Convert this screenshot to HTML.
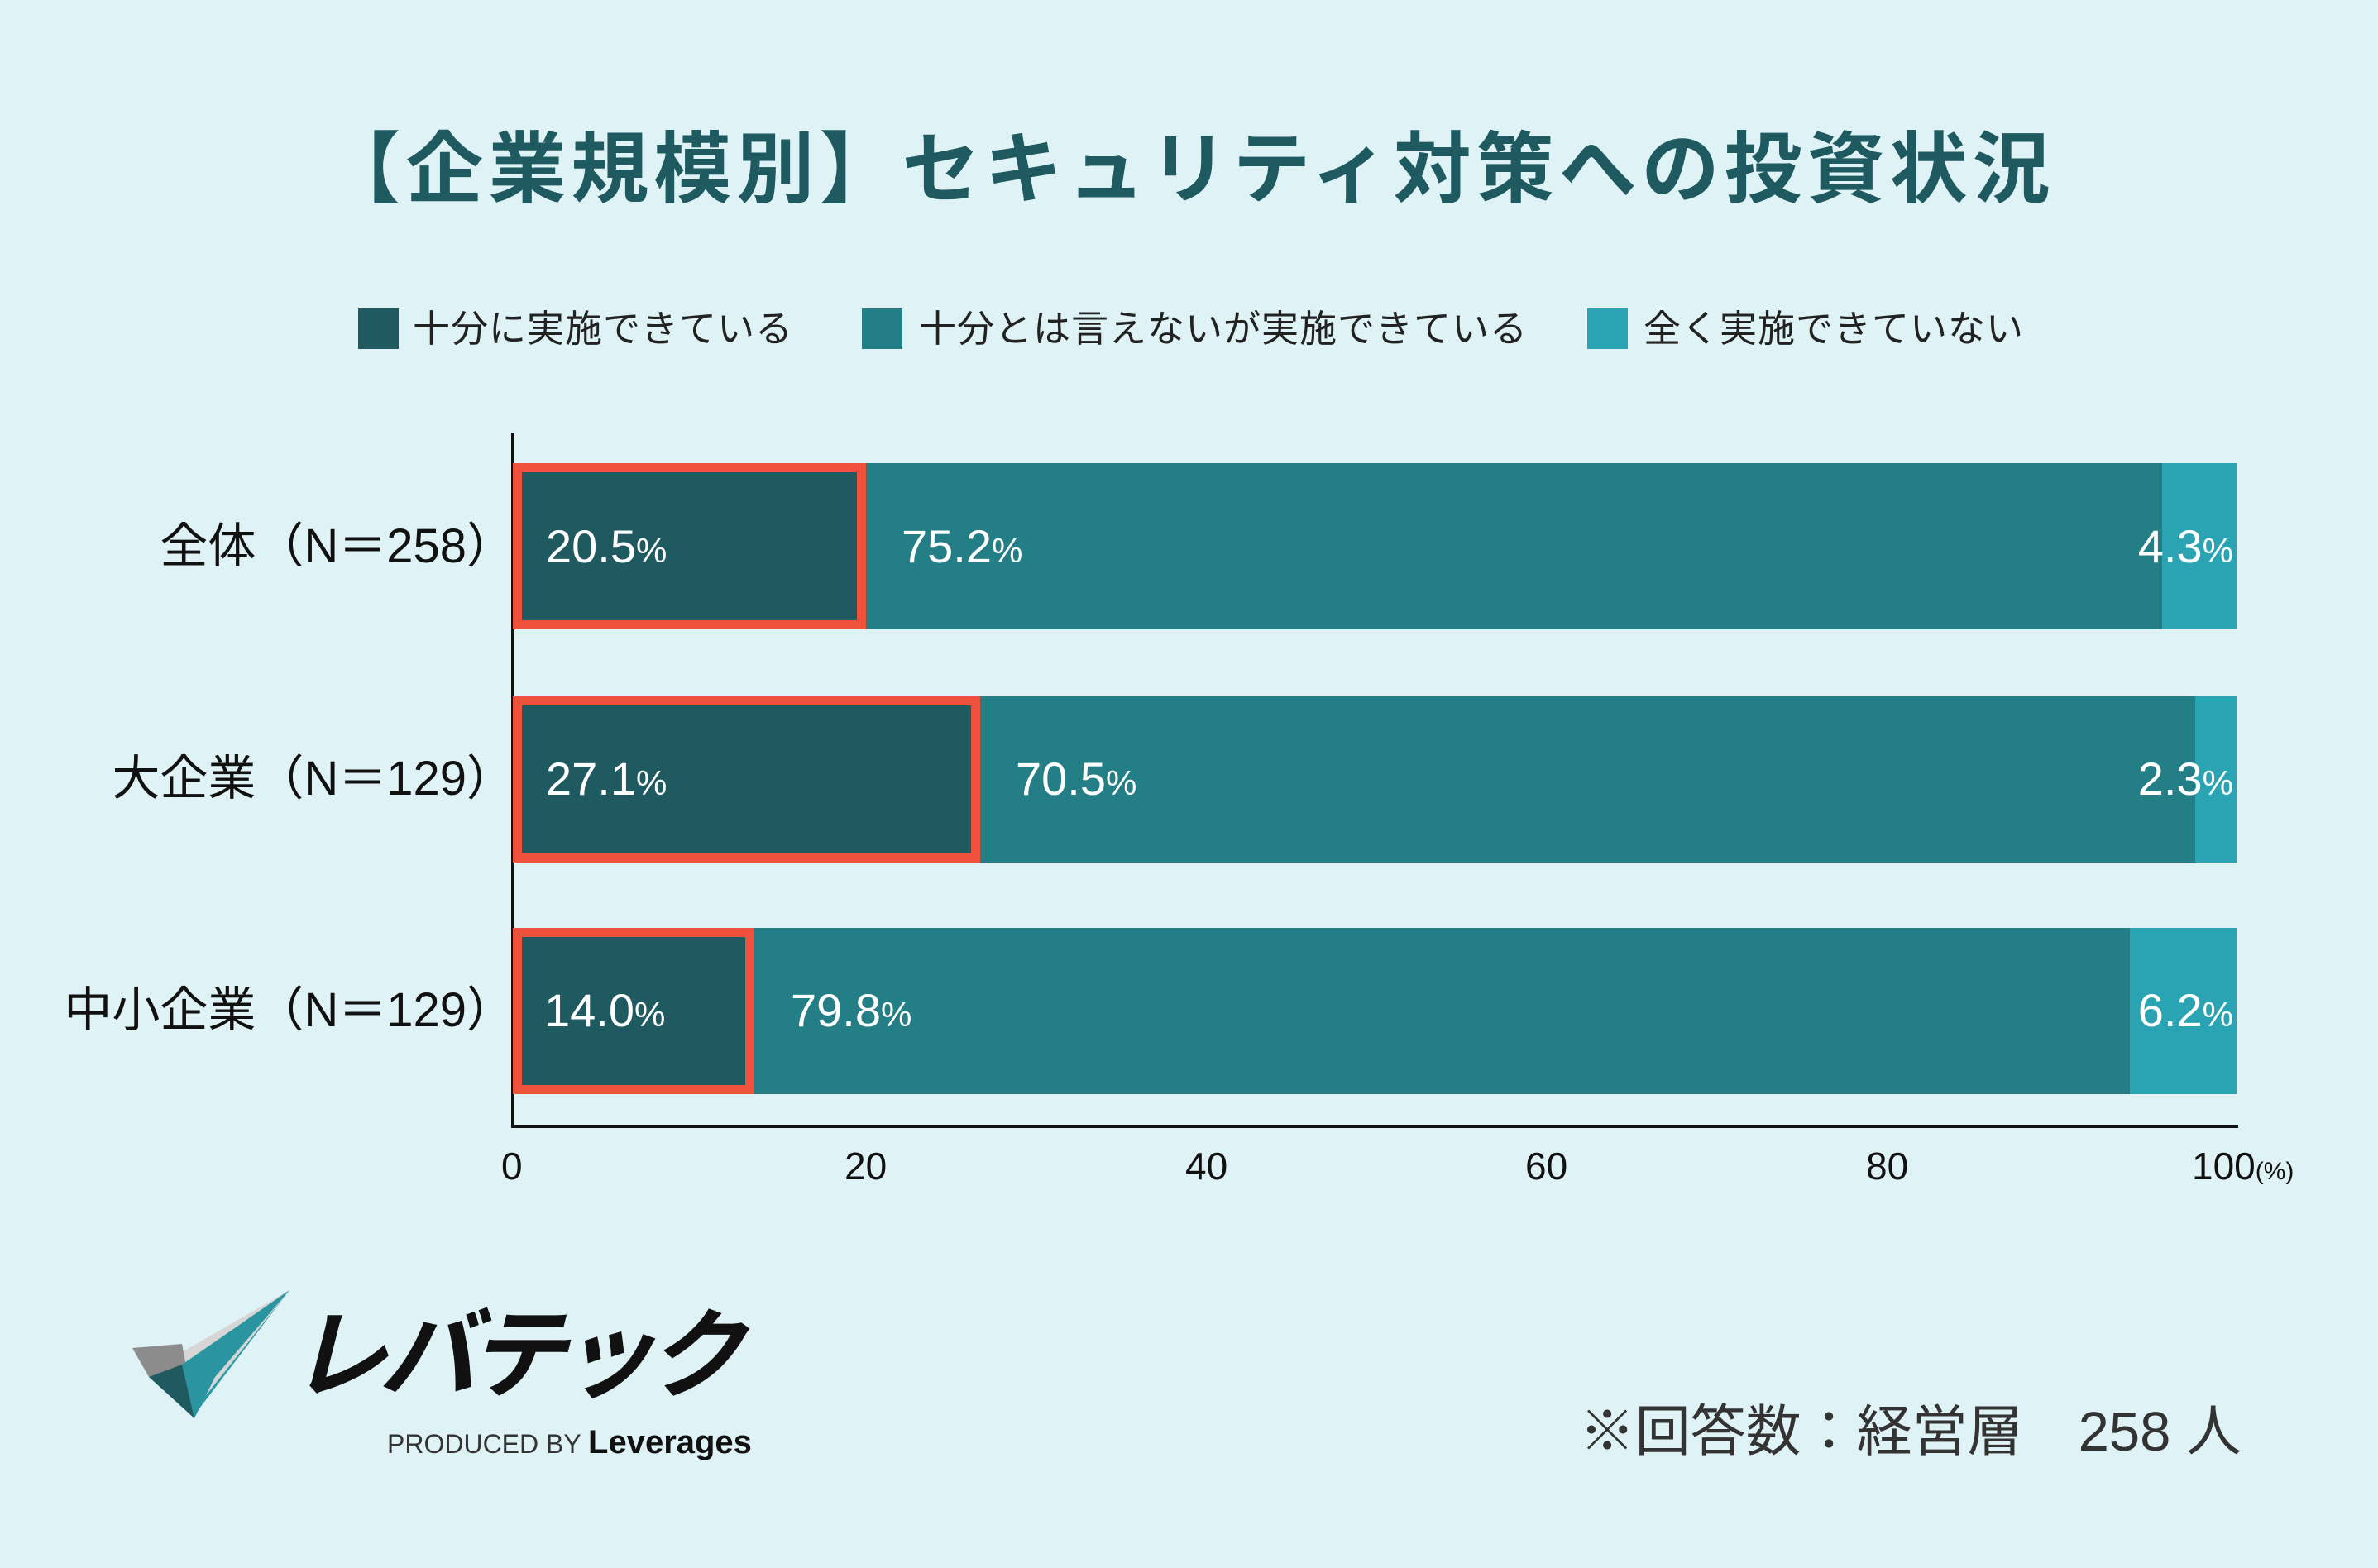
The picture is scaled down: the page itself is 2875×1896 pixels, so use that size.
<!DOCTYPE html>
<html><head><meta charset="utf-8"><style>
body{margin:0;width:2875px;height:1896px;background:#dff3f6;position:relative;overflow:hidden;font-family:"Liberation Sans","Noto Sans CJK JP",sans-serif;}
.a{position:absolute;white-space:nowrap;}
.title{left:0;width:2875px;top:145px;text-align:center;font-size:94px;font-weight:bold;color:#1e5a5f;line-height:120px;letter-spacing:6px;}
.lg{top:370px;font-size:45px;line-height:56px;color:#222;letter-spacing:1px;}
.sq{position:absolute;top:373px;width:49px;height:49px;}
.cat{right:2253px;font-size:58px;line-height:70px;color:#111;}
.bar{position:absolute;height:201px;}
.red{position:absolute;box-sizing:border-box;border:11px solid #ef513c;height:201px;}
.v{font-size:56px;color:#fff;line-height:70px;}
.v small{font-size:42px;}
.tk{top:1382px;font-size:46px;color:#111;line-height:56px;}
</style></head><body>
<div class="a title">【企業規模別】セキュリティ対策への投資状況</div>

<div class="sq" style="left:433px;background:#1e5a5f"></div>
<div class="a lg" style="left:499px">十分に実施できている</div>
<div class="sq" style="left:1042px;background:#237e85"></div>
<div class="a lg" style="left:1111px">十分とは言えないが実施できている</div>
<div class="sq" style="left:1919px;background:#2aa3b3"></div>
<div class="a lg" style="left:1987px">全く実施できていない</div>

<div class="a" style="left:618px;top:523px;width:4px;height:841px;background:#111"></div>
<div class="a" style="left:618px;top:1360px;width:2088px;height:4px;background:#111"></div>

<div class="a cat" style="top:626px">全体（N＝258）</div>
<div class="bar" style="left:620px;top:560px;width:427px;background:#1e5a5f"></div>
<div class="bar" style="left:1047px;top:560px;width:1567px;background:#237e85"></div>
<div class="bar" style="left:2614px;top:560px;width:90px;background:#2aa3b3"></div>
<div class="red" style="left:620px;top:560px;width:427px"></div>
<div class="a v" style="left:660px;top:626px">20.5<small>%</small></div>
<div class="a v" style="left:1090px;top:626px">75.2<small>%</small></div>
<div class="a v" style="right:175px;top:626px">4.3<small>%</small></div>

<div class="a cat" style="top:907px">大企業（N＝129）</div>
<div class="bar" style="left:620px;top:842px;width:565px;background:#1e5a5f"></div>
<div class="bar" style="left:1185px;top:842px;width:1469px;background:#237e85"></div>
<div class="bar" style="left:2654px;top:842px;width:50px;background:#2aa3b3"></div>
<div class="red" style="left:620px;top:842px;width:565px"></div>
<div class="a v" style="left:660px;top:907px">27.1<small>%</small></div>
<div class="a v" style="left:1228px;top:907px">70.5<small>%</small></div>
<div class="a v" style="right:175px;top:907px">2.3<small>%</small></div>

<div class="a cat" style="top:1187px">中小企業（N＝129）</div>
<div class="bar" style="left:620px;top:1122px;width:292px;background:#1e5a5f"></div>
<div class="bar" style="left:912px;top:1122px;width:1663px;background:#237e85"></div>
<div class="bar" style="left:2575px;top:1122px;width:129px;background:#2aa3b3"></div>
<div class="red" style="left:620px;top:1122px;width:292px"></div>
<div class="a v" style="left:658px;top:1187px">14.0<small>%</small></div>
<div class="a v" style="left:956px;top:1187px">79.8<small>%</small></div>
<div class="a v" style="right:175px;top:1187px">6.2<small>%</small></div>

<div class="a tk" style="left:606px">0</div>
<div class="a tk" style="left:1021px">20</div>
<div class="a tk" style="left:1433px">40</div>
<div class="a tk" style="left:1844px">60</div>
<div class="a tk" style="left:2256px">80</div>
<div class="a tk" style="left:2650px">100<span style="font-size:30px">(%)</span></div>

<svg class="a" style="left:160px;top:1555px" width="200" height="170" viewBox="0 0 200 170">
<polygon points="190,5 60,80 75,150" fill="#d6d6d6"/>
<polygon points="0,75 60,70 75,150 20,110" fill="#8c8c8c"/>
<polygon points="190,5 75,150 72,160" fill="#2a9aa4"/>
<polygon points="190,5 100,110 75,160 60,95" fill="#2a95a0"/>
<polygon points="20,110 60,95 75,160" fill="#1e5a5f"/>
</svg>
<div class="a" style="left:350px;top:1575px;font-size:118px;font-weight:bold;line-height:130px;color:#111;letter-spacing:-10px;font-style:italic">レバテック</div>
<div class="a" style="left:468px;top:1722px;font-size:32px;line-height:44px;color:#333">PRODUCED BY <b style="font-size:40px;color:#111">Leverages</b></div>

<div class="a" style="right:165px;top:1692px;font-size:67px;line-height:80px;color:#333">※回答数：経営層　258 人</div>
</body></html>
